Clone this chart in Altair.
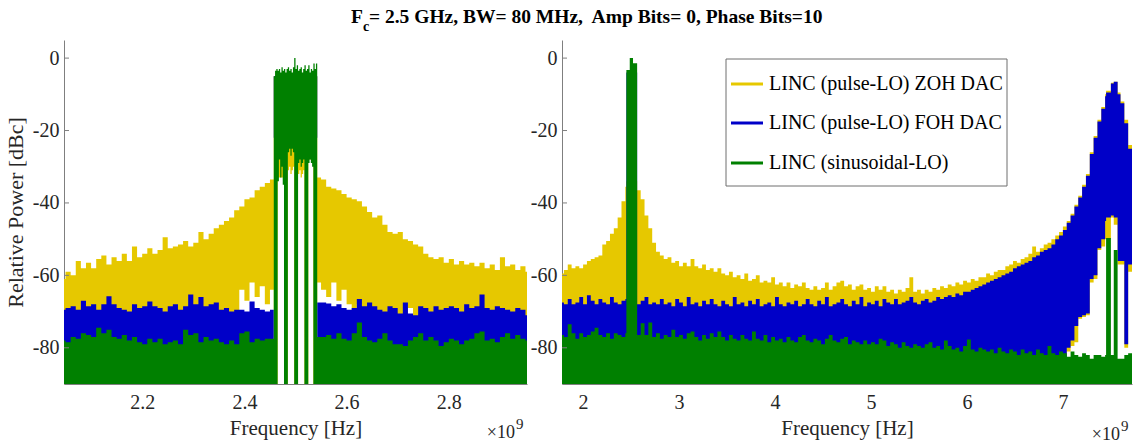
import altair as alt
import numpy as np
import pandas as pd

FONT = "Liberation Serif"
TEXT_COLOR = "#262626"
AXIS_COLOR = "#7f7f7f"

SERIES = ["LINC (pulse-LO) ZOH DAC", "LINC (pulse-LO) FOH DAC", "LINC (sinusoidal-LO)"]
KEYS = ["zoh", "foh", "sin"]
COLORS = ["#E6C800", "#0000C8", "#008000"]
FLOOR = -95.0  # band bottom that runs off the bottom of the axis

Y_DOMAIN = [-90, 5]
Y_TICKS = [-80, -60, -40, -20, 0]
LEFT_X_DOMAIN = [2.047, 2.953]
LEFT_X_TICKS = [2.2, 2.4, 2.6, 2.8]
RIGHT_X_DOMAIN = [1.78, 7.72]
RIGHT_X_TICKS = [2, 3, 4, 5, 6, 7]

F = FLOOR

# ---------------- left panel: zoom around the 2.5 GHz carrier (GHz / dBc) -------------
# upper and lower envelope of each spectrum, 10 MHz bins below the band
L_LOW_F = np.round(np.arange(2.04, 2.4551, 0.01), 3)
zoh_l_low_hi = [-61, -59, -60, -56, -58, -56.5, -58, -55.5, -54.5, -57,
                -55, -56, -54, -56, -52, -55, -54, -52.5, -54, -53,
                -49.5, -52.5, -52, -51.5, -50.5, -52, -51, -48, -50, -48.5,
                -47, -46, -45, -44, -42, -41, -39, -38.5, -36.5, -35.5,
                -34.5, -33.5]
zoh_l_low_lo = [-75] * 34 + [-70, -64, -67, -62, -66, -63, -68, -64]
foh_l_low_hi = [-69.5, -69, -68.5, -69.5, -67, -68.5, -68, -69.5, -68, -65.8,
                -68, -69, -69.5, -70, -68, -69, -68.5, -67.2, -68.5, -69,
                -70, -68.5, -68, -69.5, -68.5, -65.3, -68, -66, -68.5, -68,
                -67.5, -69.5, -69, -70, -69.5, -69.5, -70, -67.2, -69, -69.5,
                -70, -69.5]
foh_l_low_lo = [F] * 42
sin_l_low_hi = [-78, -78.5, -77, -77.5, -76, -76.5, -77, -74.5, -76, -75,
                -77, -77.5, -76.5, -78, -77, -78.5, -79, -77.5, -78.5, -77.5,
                -79, -78.5, -78, -79, -75, -76.5, -76, -78.5, -77, -78,
                -77.5, -78.5, -79, -78, -79, -76, -75.5, -78.5, -77.5, -78,
                -77.5, -77.5]
sin_l_low_lo = [F] * 42

# in-band section, 2.5 MHz bins
L_CEN_F = np.round(np.arange(2.4575, 2.5426, 0.0025), 4)
zoh_l_cen_hi = [-5] * 34 + [-33]
zoh_l_cen_lo = ([F] * 3 + [-33] * 5 + [F] * 3 + [-31, -30, -32, -31, -30] + [F] * 3
                + [-32, -31, -33, -32, -31] + [F] * 3 + [-28] * 4 + [F] * 3 + [-62])
foh_l_cen_hi = [-5] * 34 + [-67.5]
foh_l_cen_lo = [-22] * 34 + [F]
sin_l_cen_hi = [-5, -3.5, -3, -3.5, -3, -4, -2.5, -3.5, -3, -4,
                -3, -2.5, -3.5, -3, -4, -2.5, 0, -3, -2, -3.5,
                -3, -2.5, -4, -3, -2, -3.5, -3, -2, -4, -3,
                -3.5, -1.5, -3, -1.5, -77]
sin_l_cen_lo = ([F] * 3 + [-34, -28, -33, -30, -35] + [F] * 3 + [-26, -25, -27, -25, -26]
                + [F] * 3 + [-29, -28, -30, -29, -28] + [F] * 3 + [-29, -28, -29, -30]
                + [F] * 3 + [F])

# 10 MHz bins above the band
L_HIGH_F = np.round(np.arange(2.55, 2.9651, 0.01), 3)
zoh_l_high_hi = [-33.5, -35.5, -36, -36.5, -37.5, -38.5, -39, -39.5, -41, -42.5,
                 -44, -43.5, -46, -48, -48.5, -48, -50, -50.5, -51.5, -52,
                 -54, -55, -55.5, -55, -56.5, -55.5, -57, -56, -57, -56.5,
                 -57.5, -56.5, -58, -57, -58.5, -55, -57.5, -57, -58.5, -57.5,
                 -59, -61]
zoh_l_high_lo = [-64, -66, -62, -67, -64, -68, -70, -68] + [-75] * 9 + [-69] + [-75] * 24
foh_l_high_hi = [-67.5, -67.8, -68.5, -68, -69, -69.5, -69, -66.5, -68.5, -67.5,
                 -68.5, -69.5, -70, -68.5, -69, -70.5, -67.5, -70.5, -71, -68.5,
                 -69, -70, -68.5, -69.5, -69, -68.5, -69, -70, -68, -69,
                 -68.5, -65.3, -69, -69.5, -68.5, -69, -69.5, -70, -69, -69.5,
                 -71, -71]
foh_l_high_lo = [F] * 42
sin_l_high_hi = [-77, -76.5, -77.5, -76, -77.5, -78, -76, -73, -77, -78,
                 -78.5, -77.5, -76, -78, -79, -79, -79.5, -78, -77, -76,
                 -78, -77, -78, -79.5, -78.5, -77.5, -78, -79, -78, -77.5,
                 -76, -75.5, -78, -77.5, -78.5, -77, -76, -77.5, -76.5, -77.5,
                 -78, -78]
sin_l_high_lo = [F] * 42

# ---------------- right panel: full span, 40 MHz bins -------------------------------
R_BASE_F = np.round(np.arange(1.76, 7.7201, 0.04), 2)
zoh_r_hi = [-59.5, -58.5, -57, -58, -57.5, -58, -57, -56, -55.5, -55,
            -54.5, -51.5, -50.5, -48.5, -47, -44, -39.5, -35.5, -34, -34,
            -35.5, -39, -43.5, -47, -51, -53.5, -54.5, -55.5, -55, -56.5,
            -56, -57.5, -56.5, -57.5, -55.5, -57.5, -58, -57, -58.5, -58,
            -59, -58, -59.5, -60, -59, -60.5, -60, -61, -59.5, -61.5,
            -61, -60, -62, -61.5, -62, -60.5, -62.5, -62, -63, -62,
            -63.5, -62.5, -63, -62, -63.5, -64, -63, -64, -63.5, -62,
            -64, -63, -62, -61.5, -63, -62.5, -64, -63, -62.5, -64,
            -63.5, -64.5, -63, -64, -63, -64.5, -64, -65, -64, -64.5,
            -63.5, -60.5, -64.5, -64, -65, -64, -64.5, -63.5, -64, -63,
            -63.5, -62.5, -63, -62, -62.5, -61.5, -62, -61, -61.5, -60.5,
            -60.5, -59.5, -60, -59, -58.5, -58.5, -57.5, -57, -56, -56.5,
            -55.5, -55, -54, -52, -53.5, -52.5, -51.5, -51, -50, -49,
            -48, -46.5, -45, -43, -40.5, -38, -35, -32, -26, -21.5,
            -17, -13.5, -10, -7.5, -6.5, -8.5, -12, -17, -24, -29]
zoh_r_lo = [F] * 132 + [-81, -79.5, -78.5, -72, -71.5, -71, -62, -61, -53, -52,
                        -50, -48, -44, -45, -57, -80, -59, -59]
foh_r_hi = [-67.5, -68, -66.5, -68, -67.5, -66, -68, -65.5, -67, -68,
            -66.5, -67.5, -68, -66, -67.5, -68, -67, -66.5, -4, -4,
            -4, -67, -66, -68, -67.5, -68, -66.5, -68, -67.5, -68.5,
            -66.5, -67.5, -68.5, -66, -68, -67.5, -68.5, -67, -68, -66.5,
            -68, -68.5, -67, -68, -68.5, -66, -68, -67.5, -68.5, -67,
            -68, -66.5, -68.5, -68, -67.5, -68.5, -66, -68, -68.5, -67.5,
            -68, -67, -68.5, -68, -66.5, -68, -68.5, -67, -68, -66,
            -68.5, -68, -67.5, -66.5, -68, -68.5, -67, -68, -66, -68.5,
            -67.5, -68, -67, -68.5, -66.5, -67.5, -68, -66.5, -68, -67.5,
            -67, -66, -67.5, -68, -67, -66.5, -67.5, -67, -66, -66.5,
            -66, -65.5, -66, -65, -65.5, -64.5, -64.5, -64, -63.5, -63,
            -62.5, -62, -61.5, -61, -60.5, -60, -59.5, -59, -58, -57.5,
            -57, -56.5, -56, -55, -54.5, -53.5, -53, -52.5, -51.5, -50,
            -49, -47.5, -45.5, -43.5, -41, -38.5, -35.5, -32.5, -26.5, -22,
            -17.5, -14, -10.5, -8, -6.5, -9, -12.5, -18, -25, -30]
foh_r_lo = [F] * 132 + [-80, -78, -74, -71.5, -71, -70.5, -61, -60, -52.5, -50,
                        -45, -43.5, -43.5, -44, -56, -79, -57, -57]
sin_r_hi = [-76.5, -77, -73.5, -76, -77.5, -76, -77, -76.5, -75.5, -74.5,
            -76.5, -77, -76, -77.5, -76, -76.5, -77, -76, 0, 0,
            0, -73.2, -76.5, -73, -77, -76, -77.5, -76.5, -77, -75,
            -77, -76.5, -77.5, -76, -75.5, -77, -78, -76.5, -77.5, -76,
            -77, -75.5, -77, -78, -76.5, -77.5, -78, -76.5, -77.5, -78,
            -75.5, -77.5, -78, -76.5, -78.5, -77, -78, -77.5, -78.5, -77,
            -78, -78.5, -77, -76.5, -78, -78.5, -77.5, -78, -79, -77.5,
            -76.5, -78, -78.5, -77.5, -77, -79, -78, -78.5, -79, -78,
            -79, -78.5, -79, -77.5, -78, -79.5, -78.5, -79, -80, -78.5,
            -79.5, -80, -79, -79.5, -80, -79, -78.5, -80, -79.5, -80.5,
            -78, -79.5, -80.5, -80, -81, -79.5, -77.7, -80.5, -81, -80,
            -80.5, -81, -80.5, -81.5, -80, -81, -81.5, -80.5, -81, -82,
            -80.5, -81.5, -81, -82, -80.5, -81.5, -82, -79.5, -81.5, -82,
            -81, -81.5, -82.5, -81, -82, -82.5, -81.5, -82, -83, -82,
            -82, -82.5, -82, -82, -82, -82, -83, -82, -81.5, -82.5]
sin_r_lo = [F] * 150

# finer bins at the carrier peak
R_PEAK_F = [2.451, 2.486, 2.520, 2.563]
zoh_r_peak_hi = [-34, -34, -34, -36.5]
foh_r_peak_hi = [-4, -4, -4, -68]
sin_r_peak_hi = [-3.3, 0, -1.4, -76.5]
peak_lo = [F] * 4

# finer bins at the top of the band
R_EDGE_F = [7.44, 7.45, 7.50, 7.53, 7.57]
zoh_r_edge_hi = [-10, -9, -6.8, -6.5, -9.5]
zoh_r_edge_lo = [-50, -50, -44, -46, -57]
foh_r_edge_hi = [-10.5, -9.5, -7, -6.5, -10]
foh_r_edge_lo = [-45, -44, -43.5, -44, -56]
sin_r_edge_hi = [-82, -49.7, -82, -53, -83]
sin_r_edge_lo = [F] * 5


def long_rows(freqs, cols, index=None):
    idx = range(len(freqs)) if index is None else index
    out = []
    for i in idx:
        for key in KEYS:
            out.append({"f": float(freqs[i]), "series": key,
                        "hi": cols[key][0][i], "lo": cols[key][1][i]})
    return out


left_rows = (
    long_rows(L_LOW_F, {"zoh": (zoh_l_low_hi, zoh_l_low_lo),
                        "foh": (foh_l_low_hi, foh_l_low_lo),
                        "sin": (sin_l_low_hi, sin_l_low_lo)})
    + long_rows(L_CEN_F, {"zoh": (zoh_l_cen_hi, zoh_l_cen_lo),
                          "foh": (foh_l_cen_hi, foh_l_cen_lo),
                          "sin": (sin_l_cen_hi, sin_l_cen_lo)})
    + long_rows(L_HIGH_F, {"zoh": (zoh_l_high_hi, zoh_l_high_lo),
                           "foh": (foh_l_high_hi, foh_l_high_lo),
                           "sin": (sin_l_high_hi, sin_l_high_lo)})
)
left_df = pd.DataFrame(left_rows).sort_values("f")

spans = [(R_PEAK_F[0], R_PEAK_F[-1]), (R_EDGE_F[0], R_EDGE_F[-1])]
keep = [i for i, f in enumerate(R_BASE_F)
        if not any(a - 1e-9 <= f <= b + 1e-9 for a, b in spans)]
right_rows = (
    long_rows(R_BASE_F, {"zoh": (zoh_r_hi, zoh_r_lo),
                         "foh": (foh_r_hi, foh_r_lo),
                         "sin": (sin_r_hi, sin_r_lo)}, keep)
    + long_rows(R_PEAK_F, {"zoh": (zoh_r_peak_hi, peak_lo),
                           "foh": (foh_r_peak_hi, peak_lo),
                           "sin": (sin_r_peak_hi, peak_lo)})
    + long_rows(R_EDGE_F, {"zoh": (zoh_r_edge_hi, zoh_r_edge_lo),
                           "foh": (foh_r_edge_hi, foh_r_edge_lo),
                           "sin": (sin_r_edge_hi, sin_r_edge_lo)})
)
right_df = pd.DataFrame(right_rows).sort_values("f")

LEFT_W, RIGHT_W, PLOT_H = 463, 570, 344
one = pd.DataFrame({"a": [0]})


def text_at(txt, x, y, size, weight="normal", align="left", baseline="alphabetic",
            color=TEXT_COLOR):
    return alt.Chart(pd.DataFrame({"t": [txt]})).mark_text(
        font=FONT, fontSize=size, fontWeight=weight, align=align,
        baseline=baseline, color=color
    ).encode(x=alt.value(x), y=alt.value(y), text="t:N")


def anchor(x, y):
    return alt.Chart(one).mark_rect(opacity=0).encode(
        x=alt.value(x), x2=alt.value(x + 1), y=alt.value(y), y2=alt.value(y + 1))


def panel(df, xdom, xticks, width, ytitle, extras):
    xscale = alt.Scale(domain=xdom, nice=False, zero=False)
    yscale = alt.Scale(domain=Y_DOMAIN, nice=False, zero=False)
    xaxis = alt.Axis(values=xticks, title="Frequency [Hz]", titleY=50,
                     titleBaseline="alphabetic", labelBaseline="alphabetic",
                     labelPadding=24, labelFlush=False, labelOverlap=False)
    yaxis_kw = dict(values=Y_TICKS, labelExpr="'' + datum.value", labelPadding=5,
                    labelFlush=False, labelOverlap=False)
    if ytitle:
        yaxis = alt.Axis(title=ytitle, titleX=-42, titleY=PLOT_H / 2, titleAngle=270,
                         titleBaseline="alphabetic", titleAlign="center",
                         titleFontSize=22, **yaxis_kw)
    else:
        yaxis = alt.Axis(title=None, **yaxis_kw)

    layers = []
    for key, color in zip(KEYS, COLORS):
        layers.append(
            alt.Chart(df).transform_filter(alt.datum.series == key)
            .mark_area(interpolate="step-after", clip=True, color=color, opacity=1)
            .encode(x=alt.X("f:Q", scale=xscale, axis=xaxis),
                    y=alt.Y("hi:Q", scale=yscale, axis=yaxis),
                    y2="lo:Q")
        )
    # inward tick marks on the value axis
    layers.append(
        alt.Chart(pd.DataFrame({"hi": Y_TICKS})).mark_rule(color=AXIS_COLOR, strokeWidth=1)
        .encode(y=alt.Y("hi:Q", scale=yscale, axis=yaxis), x=alt.value(0), x2=alt.value(5))
    )
    layers.extend(extras)
    return alt.layer(*layers).properties(width=width, height=PLOT_H)


# figure title with subscript, exponent labels and anchors for the page frame
left_extras = [
    text_at("F", 287, -17, 19.5, weight="bold", color="#000000"),
    text_at("c", 299, -9, 14, weight="bold", color="#000000"),
    text_at("= 2.5 GHz, BW= 80 MHz,\u00a0 Amp Bits= 0, Phase Bits=10", 305, -17, 19.5,
            weight="bold", color="#000000"),
    text_at("\u00d710", 451, 398, 18, align="right"),
    text_at("9", 452, 389, 15),
    anchor(-64, -40),
]

# hand-placed legend box inside the right panel
legend_layers = [
    alt.Chart(one).mark_rect(fill="white", stroke="#6e6e6e", strokeWidth=1).encode(
        x=alt.value(164), x2=alt.value(445), y=alt.value(19), y2=alt.value(146))
]
LEG_ROWS = [44, 83, 123]
for name, color, ry in zip(SERIES, COLORS, LEG_ROWS):
    legend_layers.append(
        alt.Chart(one).mark_rule(color=color, strokeWidth=3).encode(
            x=alt.value(169), x2=alt.value(201), y=alt.value(ry))
    )
    legend_layers.append(text_at(name, 207, ry, 20, baseline="middle", color="#000000"))

right_extras = legend_layers + [
    text_at("\u00d710", 558, 400, 18, align="right"),
    text_at("9", 559, 391, 15),
    anchor(584, 405),
]

left = panel(left_df, LEFT_X_DOMAIN, LEFT_X_TICKS, LEFT_W, "Relative Power [dBc]", left_extras)
right = panel(right_df, RIGHT_X_DOMAIN, RIGHT_X_TICKS, RIGHT_W, None, right_extras)

chart = (
    alt.hconcat(left, right, spacing=35, bounds="flush")
    .properties(padding=0, background="white")
    .configure_view(stroke=None)
    .configure_axis(
        domainColor=AXIS_COLOR, domainWidth=1, ticks=False, tickSize=0, grid=False,
        labelFont=FONT, labelFontSize=20, labelColor=TEXT_COLOR,
        titleFont=FONT, titleFontSize=21, titleFontWeight="normal", titleColor=TEXT_COLOR,
        zindex=1,
    )
)

chart.save("out.html", embed_options={"renderer": "svg", "actions": False})
